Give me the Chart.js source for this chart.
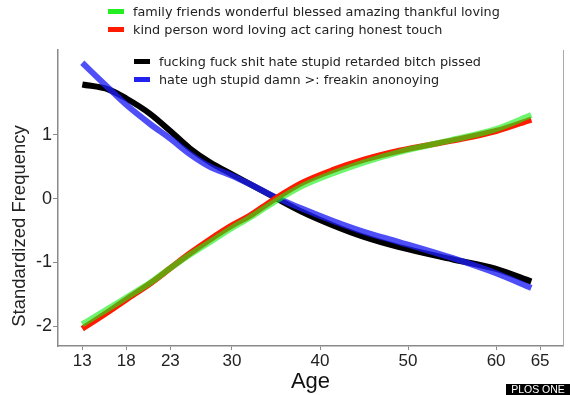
<!DOCTYPE html>
<html>
<head>
<meta charset="utf-8">
<script src="https://cdn.jsdelivr.net/npm/chart.js@4.4.1/dist/chart.umd.min.js"></script>
<style>
  body { margin: 0; background: #fff; }
  #wrap { position: relative; width: 570px; height: 395px; }
  canvas { position: absolute; left: 0; top: 0; }
  .leg { position: absolute; font-family: "DejaVu Sans", sans-serif; font-size: 12.8px; color: #222; white-space: nowrap; }
  .leg div { height: 17.5px; line-height: 17.5px; }
  .leg span { display: inline-block; width: 16px; height: 5px; margin-right: 9px; vertical-align: middle; position: relative; top: -1px; }
  #plos { position: absolute; left: 506px; top: 384px; width: 64px; height: 11px; background: #000; color: #fff;
          font-family: "Liberation Sans", sans-serif; font-size: 10.5px; line-height: 11px; text-align: center; }
</style>
</head>
<body>
<div id="wrap">
  <canvas id="myChart" width="570" height="395"></canvas>
  <div class="leg" id="leg1" style="left:108px; top:3px;"></div>
  <div class="leg" id="leg2" style="left:134px; top:53px;"></div>
  <div id="plos">PLOS ONE</div>
</div>
<script>
const ages = [13, 16, 18, 20.7, 23, 25.2, 27.5, 30, 32, 34.7, 38, 41.5, 45, 49, 55, 60, 64];
const xTicks = [13, 18, 23, 30, 40, 50, 60, 65];
const yTicks = [-2, -1, 0, 1];

const greenVals = [-1.97, -1.72, -1.55, -1.32, -1.09, -0.88, -0.68, -0.46, -0.30, -0.06, 0.20, 0.40, 0.57, 0.73, 0.92, 1.09, 1.31];
const redVals   = [-2.04, -1.77, -1.58, -1.33, -1.09, -0.86, -0.64, -0.42, -0.27, -0.02, 0.25, 0.45, 0.61, 0.75, 0.91, 1.06, 1.24];
const blackVals = [1.79, 1.71, 1.57, 1.33, 1.06, 0.79, 0.57, 0.38, 0.23, 0.03, -0.21, -0.42, -0.60, -0.76, -0.95, -1.10, -1.30];
const blueVals  = [2.13, 1.73, 1.47, 1.17, 0.94, 0.70, 0.50, 0.36, 0.23, 0.04, -0.16, -0.35, -0.52, -0.68, -0.93, -1.17, -1.40];

const labels1 = ['family friends wonderful blessed amazing thankful loving', 'kind person word loving act caring honest touch'];
const labels2 = ['fucking fuck shit hate stupid retarded bitch pissed', 'hate ugh stupid damn >: freakin anonoying'];
const yTitle = 'Standardized Frequency';

function pts(vals) {
  return ages.map((a, i) => ({ x: a, y: vals[i] }));
}

const series = [
  { label: labels1[0], data: pts(greenVals), color: 'rgba(20,240,20,0.62)', swatch: '#22ee22', order: 1, group: 1 },
  { label: labels1[1], data: pts(redVals), color: '#ff1a00', swatch: '#ff1a00', order: 2, group: 1 },
  { label: labels2[0], data: pts(blackVals), color: '#000000', swatch: '#000000', order: 4, group: 2 },
  { label: labels2[1], data: pts(blueVals), color: 'rgba(30,30,245,0.78)', swatch: '#2222ee', order: 3, group: 2 },
];

// legends as html
series.forEach(s => {
  const row = document.createElement('div');
  const sw = document.createElement('span');
  sw.style.background = s.swatch;
  row.appendChild(sw);
  row.appendChild(document.createTextNode(s.label));
  document.getElementById(s.group === 1 ? 'leg1' : 'leg2').appendChild(row);
});

// right frame line + y title (sits a bit below the middle in the original)
const frame = {
  id: 'frame',
  afterDraw(chart) {
    const { ctx, chartArea } = chart;
    ctx.save();
    ctx.strokeStyle = '#aaa';
    ctx.lineWidth = 1;
    ctx.beginPath();
    ctx.moveTo(chartArea.right + 0.5, chartArea.top);
    ctx.lineTo(chartArea.right + 0.5, chartArea.bottom);
    ctx.stroke();

    ctx.translate(20, 226);
    ctx.rotate(-Math.PI / 2);
    ctx.fillStyle = '#222';
    ctx.font = '18.5px "Liberation Sans"';
    ctx.textAlign = 'center';
    ctx.textBaseline = 'middle';
    ctx.fillText(yTitle, 0, 0);
    ctx.restore();
  }
};

const axisColor = '#8a8a8a';

const config = {
  type: 'line',
  data: {
    datasets: series.map(s => ({
      label: s.label,
      data: s.data,
      borderColor: s.color,
      backgroundColor: s.color,
      borderWidth: 6,
      pointRadius: 0,
      cubicInterpolationMode: 'monotone',
      borderCapStyle: 'butt',
      order: s.order,
    }))
  },
  options: {
    responsive: false,
    animation: false,
    layout: { padding: { top: 50, right: 7, left: 0, bottom: 0 } },
    plugins: { legend: { display: false }, tooltip: { enabled: false } },
    scales: {
      x: {
        type: 'linear',
        min: 10.24,
        max: 67.6,
        afterBuildTicks: (scale) => { scale.ticks = xTicks.map(v => ({ value: v })); },
        afterFit: (scale) => { scale.height = 49; },
        grid: { drawOnChartArea: false, drawTicks: true, tickLength: 4, color: axisColor },
        border: { color: axisColor, width: 1.5 },
        ticks: { color: '#222', font: { family: 'Liberation Sans', size: 17 }, padding: 1, maxRotation: 0 },
        title: { display: true, text: 'Age', color: '#111', font: { family: 'Liberation Sans', size: 22 }, padding: { top: 0, bottom: 0 } }
      },
      y: {
        min: -2.31,
        max: 2.33,
        afterBuildTicks: (scale) => { scale.ticks = yTicks.map(v => ({ value: v })); },
        afterFit: (scale) => { scale.width = 58; },
        grid: { drawOnChartArea: false, drawTicks: true, tickLength: 5, color: axisColor },
        border: { color: axisColor, width: 1.5 },
        ticks: { color: '#222', font: { family: 'Liberation Sans', size: 18 }, padding: 1 }
      }
    }
  },
  plugins: [frame]
};

var myChart = new Chart(document.getElementById('myChart'), config);
</script>
</body>
</html>
